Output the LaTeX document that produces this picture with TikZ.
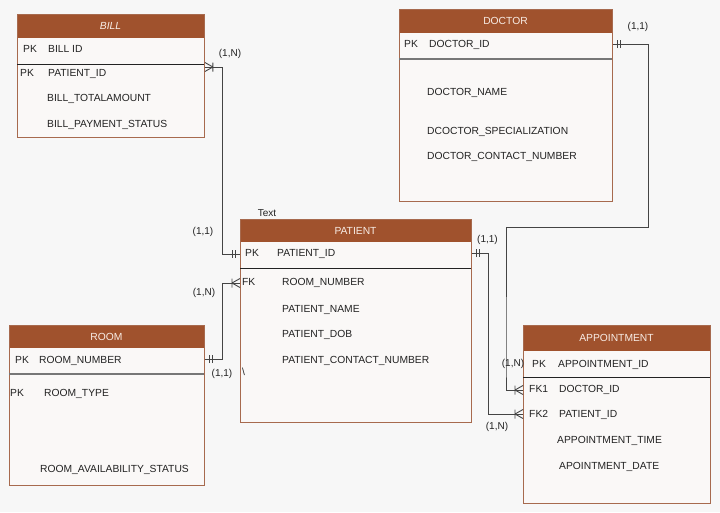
\documentclass[tikz,border=0pt]{standalone}
\usepackage{fontspec}
\setmainfont{Liberation Sans}
\usetikzlibrary{calc}
\definecolor{bgc}{HTML}{F7F7F7}
\definecolor{hdrc}{HTML}{A0522D}
\definecolor{entb}{HTML}{A76A4E}
\definecolor{entf}{HTML}{FAF8F7}
\definecolor{txt}{HTML}{222222}
\definecolor{sepd}{HTML}{222222}
\definecolor{sepg}{HTML}{777777}
\definecolor{conc}{HTML}{444444}
\definecolor{hdrt}{HTML}{F8EDE6}
\begin{document}
\begin{tikzpicture}[x=1pt,y=-1pt,font=\fontsize{10.3}{12}\selectfont,
  ent/.style={draw=entb,fill=entf,line width=0.9pt,inner sep=0,anchor=north west},
  ht/.style={text=hdrt,anchor=center,inner sep=0},
  attr/.style={anchor=west,inner sep=0,text height=7.4pt,text depth=0pt,text=txt},
  card/.style={anchor=center,inner sep=0,text=txt,font=\fontsize{10}{12}\selectfont},
  sepline/.style={draw=sepd,line width=0.9pt},
  sepgray/.style={draw=sepg,line width=1.1pt},
  con/.style={draw=conc,line width=0.9pt},
  pics/mone/.style={code={\draw[con] (-5,-4)--(-5,4) (-8,-4)--(-8,4);}},
  pics/mmany/.style={code={\draw[con] (-8,-4.5)--(-8,4.5) (-8,0)--(0,-4.5) (-8,0)--(0,4.5);}}]
\fill[bgc] (0,0) rectangle (720,512);
\useasboundingbox (0,0) rectangle (720,512);

% ---------- BILL ----------
\node[ent,minimum width=187pt,minimum height=123pt] (bill) at (17,14) {};
\fill[hdrc] (17,14) rectangle (204,38);
\draw[entb,line width=0.9pt] (17,14) rectangle (204,137);
\node[ht] (billt) at (110.5,26) {\itshape BILL};
\node[attr] (billpk) at (23,49) {PK};
\node[attr] (billid) at (48,49) {BILL ID};
\draw[sepline] (17,64) -- (204,64);
\node[attr] (billpk2) at (20,73) {PK};
\node[attr] (billpid) at (48,73) {PATIENT\_ID};
\node[attr] (billamt) at (47,98) {BILL\_TOTALAMOUNT};
\node[attr] (billst) at (47,124) {BILL\_PAYMENT\_STATUS};

% ---------- DOCTOR ----------
\node[ent,minimum width=213pt,minimum height=192pt] (doc) at (399,9) {};
\fill[hdrc] (399,9) rectangle (612,33);
\draw[entb,line width=0.9pt] (399,9) rectangle (612,201);
\node[ht] (doct) at (505.5,21) {DOCTOR};
\node[attr] (docpk) at (404,44) {PK};
\node[attr] (docid) at (429,44) {DOCTOR\_ID};
\draw[sepgray] (399,59) -- (612,59);
\node[attr] (docname) at (427,92) {DOCTOR\_NAME};
\node[attr] (docspec) at (427,131) {DCOCTOR\_SPECIALIZATION};
\node[attr] (doccon) at (427,156) {DOCTOR\_CONTACT\_NUMBER};

% ---------- PATIENT ----------
\node[ent,minimum width=231pt,minimum height=203pt] (pat) at (240,219) {};
\fill[hdrc] (240,219) rectangle (471,242);
\draw[entb,line width=0.9pt] (240,219) rectangle (471,422);
\node[ht] (patt) at (355.5,230.5) {PATIENT};
\node[card] (txtlbl) at (267,213) {Text};
\node[attr] (patpk) at (245,253) {PK};
\node[attr] (patid) at (277,253) {PATIENT\_ID};
\draw[sepline] (240,268.5) -- (471,268.5);
\node[attr] (patfk) at (242,282) {FK};
\node[attr] (patroom) at (282,282) {ROOM\_NUMBER};
\node[attr] (patname) at (282,308.5) {PATIENT\_NAME};
\node[attr] (patdob) at (282,334) {PATIENT\_DOB};
\node[attr] (patcon) at (282,360) {PATIENT\_CONTACT\_NUMBER};
\node[attr] (patbs) at (242,372) {\textbackslash};

% ---------- ROOM ----------
\node[ent,minimum width=195pt,minimum height=160pt] (room) at (9,325) {};
\fill[hdrc] (9,325) rectangle (204,348);
\draw[entb,line width=0.9pt] (9,325) rectangle (204,485);
\node[ht] (roomt) at (106.5,336.5) {ROOM};
\node[attr] (roompk) at (15,360) {PK};
\node[attr] (roomno) at (39,360) {ROOM\_NUMBER};
\draw[sepgray] (9,374) -- (204,374);
\node[attr] (roompk2) at (10,393) {PK};
\node[attr] (roomtype) at (44,393) {ROOM\_TYPE};
\node[attr] (roomav) at (40,469) {ROOM\_AVAILABILITY\_STATUS};

% ---------- APPOINTMENT ----------
\node[ent,minimum width=187pt,minimum height=178pt] (app) at (523,325) {};
\fill[hdrc] (523,325) rectangle (710,351);
\draw[entb,line width=0.9pt] (523,325) rectangle (710,503);
\node[ht] (appt) at (616.5,338) {APPOINTMENT};
\node[attr] (apppk) at (532,364) {PK};
\node[attr] (appid) at (558,364) {APPOINTMENT\_ID};
\draw[sepline] (523,377) -- (710,377);
\node[attr] (appfk1) at (529,389) {FK1};
\node[attr] (appdoc) at (559,389) {DOCTOR\_ID};
\node[attr] (appfk2) at (529,414) {FK2};
\node[attr] (apppat) at (559,414) {PATIENT\_ID};
\node[attr] (apptime) at (557,440) {APPOINTMENT\_TIME};
\node[attr] (appdate) at (559,466) {APOINTMENT\_DATE};

% ---------- connectors ----------
% BILL -- PATIENT
\draw[con] ($(bill.north east)+(0,53)$) -| ($(bill.north east)+(18,120)$) |- ($(pat.north west)+(0,35)$);
\pic[rotate=180] at ($(bill.north east)+(0,53)$) {mmany};
\pic at ($(pat.north west)+(0,35)$) {mone};
% ROOM -- PATIENT
\draw[con] ($(room.north east)+(0,34)$) -| ($(room.north east)+(18,0)$) |- ($(pat.north west)+(0,64)$);
\pic[rotate=180] at ($(room.north east)+(0,34)$) {mone};
\pic at ($(pat.north west)+(0,64)$) {mmany};
% DOCTOR -- APPOINTMENT
\draw[con] ($(doc.north east)+(0,35)$) -| ($(doc.north east)+(36,218)$) -| ($(app.north west)+(-17,40)$) |- ($(app.north west)+(0,65)$);
\pic[rotate=180] at ($(doc.north east)+(0,35)$) {mone};
\pic at ($(app.north west)+(0,65)$) {mmany};
% PATIENT -- APPOINTMENT
\draw[con] ($(pat.north east)+(0,34)$) -| ($(pat.north east)+(17,100)$) |- ($(app.north west)+(0,89)$);
\pic[rotate=180] at ($(pat.north east)+(0,34)$) {mone};
\pic at ($(app.north west)+(0,89)$) {mmany};

% ---------- cardinalities ----------
\node[card] (c1) at (230,54) {(1,N)};
\node[card] (c2) at (203,232) {(1,1)};
\node[card] (c3) at (204,293) {(1,N)};
\node[card] (c4) at (222,374) {(1,1)};
\node[card] (c5) at (638,27) {(1,1)};
\node[card] (c6) at (487.5,240) {(1,1)};
\node[card] (c7) at (513,364) {(1,N)};
\node[card] (c8) at (497,427) {(1,N)};
\end{tikzpicture}
\end{document}
